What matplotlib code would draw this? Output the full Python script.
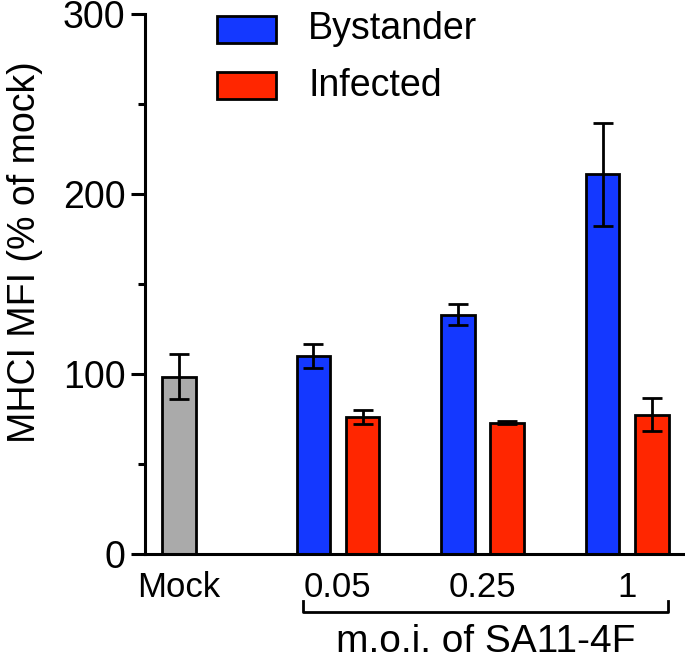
import matplotlib
matplotlib.use("Agg")
import matplotlib.pyplot as plt
from matplotlib.patches import Rectangle
import matplotlib.transforms as mtransforms

plt.rcParams['font.family'] = ['Liberation Sans', 'DejaVu Sans']

# ---- data ----
groups = ["0.05", "0.25", "1"]
mock_label = "Mock"
mock_value = 98.5
mock_err = 12.5
series_names = ["Bystander", "Infected"]
bystander = [110, 133, 211]
bystander_err = [6.5, 6.0, 28.5]
infected = [76, 73, 77.5]
infected_err = [3.8, 1.0, 9.0]
xlabel_text = "m.o.i. of SA11-4F"
ylabel_text = "MHCI MFI (% of mock)"
yticks = [0, 100, 200, 300]

# ---- style ----
c_blue = "#1438FF"
c_red = "#FF2600"
c_gray = "#AAAAAA"
fs = 27
lw = 2.0

fig = plt.figure(figsize=(6.85, 6.6), dpi=100)
ax = fig.add_axes([145/685, 1-554/660, 1-145/685, 540/660])

pos = [1, 2, 3]
mock_pos = -0.1
off = 0.17
w = 0.232

ekw = dict(ecolor='black', elinewidth=lw, capsize=7, capthick=lw)
ax.bar([mock_pos], [mock_value], w, color=c_gray, edgecolor='black', linewidth=lw, zorder=2)
ax.errorbar([mock_pos], [mock_value], yerr=[mock_err], fmt='none', zorder=3, **ekw)
ax.bar([p - off for p in pos], bystander, w, color=c_blue, edgecolor='black', linewidth=lw, zorder=2)
ax.errorbar([p - off for p in pos], bystander, yerr=bystander_err, fmt='none', zorder=3, **ekw)
ax.bar([p + off for p in pos], infected, w, color=c_red, edgecolor='black', linewidth=lw, zorder=2)
ax.errorbar([p + off for p in pos], infected, yerr=infected_err, fmt='none', zorder=3, **ekw)

ax.set_xlim(-0.334, 3.40)
ax.set_ylim(0, 300)
ax.set_yticks(yticks)
ax.set_yticks([50, 150, 250], minor=True)
ax.tick_params(axis='y', which='major', length=10, width=2.2, labelsize=fs, pad=4)
ax.tick_params(axis='y', which='minor', length=5, width=2.2)
ax.set_xticks([mock_pos] + pos)
ax.set_xticklabels([mock_label] + groups)
ax.tick_params(axis='x', length=0, labelsize=25, pad=12)
for s in ['top', 'right']:
    ax.spines[s].set_visible(False)
for s in ['left', 'bottom']:
    ax.spines[s].set_linewidth(2.2)

fig.text(25/685, 1 - (57+447)/2/660, ylabel_text, rotation=90, fontsize=fs, ha='center', va='center')

# bracket under moi groups
trans = mtransforms.blended_transform_factory(ax.transData, ax.transAxes)
xl, xr = 0.758, 3.279
yb, yt = -0.107, -0.087
ax.plot([xl, xl, xr, xr], [yt, yb, yb, yt], color='black', lw=lw, transform=trans, clip_on=False)
ax.text((xl + xr) / 2, -0.163, xlabel_text, transform=trans, ha='center', va='center', fontsize=28)

# legend (manual)
colors = [c_blue, c_red]
rows_y = [29, 85.5]
for name, col, yc in zip(series_names, colors, rows_y):
    fig.patches.append(Rectangle((217/685, 1 - (yc + 13.5)/660), 59/685, 27/660,
                                 transform=fig.transFigure, facecolor=col, edgecolor='black', linewidth=lw))
    fig.text(308/685, 1 - yc/660, name, fontsize=fs, ha='left', va='center')

fig.savefig("out.png", dpi=100)
